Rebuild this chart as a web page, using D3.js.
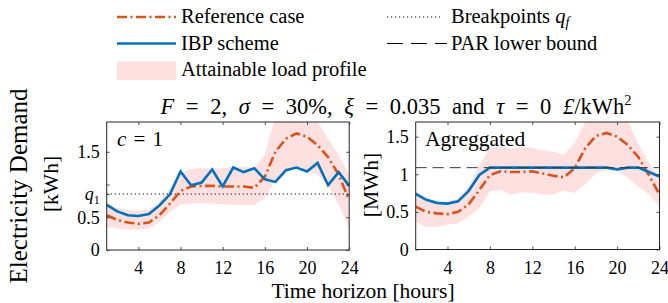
<!DOCTYPE html>
<html>
<head>
<meta charset="utf-8">
<script src="https://cdn.jsdelivr.net/npm/d3@7"></script>
<style>
  html, body { margin: 0; padding: 0; background: #fff; }
  svg { display: block; }
  text { font-family: "Liberation Serif", "Times New Roman", serif; fill: #000; }
</style>
</head>
<body>
<svg id="chart" width="668" height="303"></svg>
<script>
// ---------------- data ----------------
const hours = [1,2,3,4,5,6,7,8,9,10,11,12,13,14,15,16,17,18,19,20,21,22,23,24];
const xTicks = [4, 8, 12, 16, 20, 24];

// Panel c = 1 (kWh)
const refC1    = [0.53,0.46,0.42,0.40,0.42,0.53,0.71,0.90,0.97,0.98,0.98,0.97,0.97,0.97,0.95,1.12,1.50,1.70,1.78,1.73,1.60,1.42,1.15,0.76];
const ibpC1    = [0.69,0.59,0.53,0.52,0.55,0.68,0.85,1.20,0.99,1.03,1.23,0.97,1.26,1.19,1.25,1.08,1.04,1.22,1.26,1.20,1.33,0.99,1.19,0.98];
const bandLoC1 = [0.35,0.33,0.31,0.31,0.33,0.43,0.58,0.69,0.71,0.71,0.71,0.70,0.69,0.69,0.69,0.79,1.07,1.20,1.25,1.22,1.15,0.99,0.69,0.33];
const bandHiC1 = [0.72,0.64,0.61,0.60,0.62,0.72,0.94,1.17,1.24,1.25,1.24,1.25,1.27,1.27,1.26,1.45,2.05,2.20,2.25,2.20,1.96,1.70,1.45,1.15];
const q1 = 0.855;
const yTicksC1 = [0, 0.5, 0.855, 1, 1.5];
const yTickLabelsC1 = ["0", "0.5", "q1", "", "1.5"];

// Aggregated panel (MWh)
const refAgg    = [0.57,0.50,0.48,0.47,0.50,0.60,0.79,0.99,1.04,1.03,1.03,1.04,1.01,0.98,0.96,1.08,1.35,1.51,1.55,1.50,1.39,1.23,0.99,0.73];
const ibpAgg    = [0.74,0.66,0.62,0.61,0.64,0.78,0.99,1.088,1.088,1.088,1.088,1.088,1.088,1.088,1.088,1.088,1.088,1.088,1.088,1.066,1.088,1.088,1.03,0.97];
const bandLoAgg = [0.37,0.30,0.30,0.33,0.35,0.44,0.55,0.77,0.79,0.73,0.76,0.75,0.73,0.73,0.78,0.75,0.87,1.01,1.07,1.05,0.95,0.83,0.73,0.57];
const bandHiAgg = [0.78,0.66,0.63,0.63,0.68,0.84,1.12,1.35,1.37,1.34,1.36,1.35,1.32,1.30,1.26,1.42,1.70,1.90,1.95,1.90,1.72,1.40,1.15,0.95];
const parBound = 1.088;
const yTicksAgg = [0, 0.5, 1, 1.5];
const yTickLabelsAgg = ["0", "0.5", "1", "1.5"];

// ---------------- style ----------------
const ORANGE = "#D95319", BLUE = "#0072BD", PINK = "#FFE0E0", AXIS = "#262626";
const DASHDOT = "10,3.5,2,3.5";
const TICKFS = 18;

const svg = d3.select("#chart");

function drawPanel(o) {
  const x = d3.scaleLinear().domain([1, 24]).range([o.left, o.right]);
  const y = d3.scaleLinear().domain(o.yDomain).range([o.bottom, o.top]);
  const g = svg.append("g");
  const clipId = "clip" + o.id;
  svg.append("clipPath").attr("id", clipId).append("rect")
    .attr("x", o.left).attr("y", o.top).attr("width", o.right - o.left).attr("height", o.bottom - o.top);
  const pg = g.append("g").attr("clip-path", `url(#${clipId})`);

  const rows = hours.map((h, i) => ({h, lo: o.lo[i], hi: o.hi[i], ref: o.ref[i], ibp: o.ibp[i]}));
  pg.append("path").datum(rows)
    .attr("d", d3.area().x(d => x(d.h)).y0(d => y(d.lo)).y1(d => y(d.hi)))
    .attr("fill", PINK);

  if (o.dotted !== undefined) {
    pg.append("line").attr("x1", o.left).attr("x2", o.right)
      .attr("y1", y(o.dotted)).attr("y2", y(o.dotted))
      .attr("stroke", "#000").attr("stroke-width", 1).attr("stroke-dasharray", "1.2,2.8");
  }
  pg.append("path").datum(rows)
    .attr("d", d3.line().x(d => x(d.h)).y(d => y(d.ref)))
    .attr("fill", "none").attr("stroke", ORANGE).attr("stroke-width", 2.6)
    .attr("stroke-dasharray", DASHDOT);
  pg.append("path").datum(rows)
    .attr("d", d3.line().x(d => x(d.h)).y(d => y(d.ibp)))
    .attr("fill", "none").attr("stroke", BLUE).attr("stroke-width", 2.6);
  if (o.dashed !== undefined) {
    pg.append("line").attr("x1", o.left).attr("x2", o.right)
      .attr("y1", y(o.dashed)).attr("y2", y(o.dashed))
      .attr("stroke", "#3a3a3a").attr("stroke-width", 1).attr("stroke-dasharray", "11,6");
  }

  // axes (MATLAB style, ticks inside, box)
  const tl = 3;
  const axB = d3.axisBottom(x).tickValues(xTicks).tickSizeInner(-tl).tickSizeOuter(0).tickPadding(11.5).tickFormat(d3.format("d"));
  const axT = d3.axisTop(x).tickValues(xTicks).tickSizeInner(-tl).tickSizeOuter(0).tickFormat("");
  const axL = d3.axisLeft(y).tickValues(o.yTicks).tickSizeInner(-tl).tickSizeOuter(0).tickPadding(7)
                .tickFormat((d, i) => o.yLabels[i]);
  const axR = d3.axisRight(y).tickValues(o.yTicks).tickSizeInner(-tl).tickSizeOuter(0).tickFormat("");

  g.append("g").attr("transform", `translate(0,${o.bottom})`).call(axB);
  g.append("g").attr("transform", `translate(0,${o.top})`).call(axT);
  const gl = g.append("g").attr("transform", `translate(${o.left},0)`).call(axL);
  g.append("g").attr("transform", `translate(${o.right},0)`).call(axR);
  g.selectAll(".domain").remove();
  g.selectAll(".tick line").attr("stroke", AXIS).attr("stroke-width", 0.8);
  g.selectAll(".tick text").attr("font-family", "Liberation Serif").attr("font-size", TICKFS).attr("fill", "#000");
  gl.selectAll(".tick text").filter((d, i) => o.yLabels[i] === "q1").each(function() {
    const t = d3.select(this); t.text("");
    t.append("tspan").attr("font-style", "italic").text("q");
    t.append("tspan").attr("font-size", 12).attr("dy", 4).text("1");
  });
  g.append("rect").attr("x", o.left).attr("y", o.top)
    .attr("width", o.right - o.left).attr("height", o.bottom - o.top)
    .attr("fill", "none").attr("stroke", AXIS).attr("stroke-width", 1);
}

drawPanel({id: "a", left: 106.7, right: 349.2, top: 122, bottom: 250, yDomain: [0, 1.955],
  ref: refC1, ibp: ibpC1, lo: bandLoC1, hi: bandHiC1, yTicks: yTicksC1, yLabels: yTickLabelsC1, dotted: q1});
drawPanel({id: "b", left: 415.7, right: 659.5, top: 122, bottom: 249.5, yDomain: [0, 1.695],
  ref: refAgg, ibp: ibpAgg, lo: bandLoAgg, hi: bandHiAgg, yTicks: yTicksAgg, yLabels: yTickLabelsAgg, dashed: parBound});

// fit a text to a target width by widening its word spaces
function fitSpacing(sel, target, nSpaces) {
  const w = sel.node().getBBox().width;
  sel.attr("word-spacing", Math.max(0, (target - w) / nSpaces));
}

// panel labels
const cl = svg.append("text").attr("x", 117).attr("y", 145.5).attr("font-size", 21);
cl.append("tspan").attr("font-style", "italic").text("c");
cl.append("tspan").text(" = 1");
fitSpacing(cl, 46, 2);
svg.append("text").attr("x", 425).attr("y", 145.5).attr("font-size", 21.5).text("Agreggated");

// axis labels
svg.append("text").attr("transform", "translate(27,186) rotate(-90)").attr("text-anchor", "middle")
  .attr("font-size", 25).text("Electricity Demand");
svg.append("text").attr("transform", "translate(58,184) rotate(-90)").attr("text-anchor", "middle")
  .attr("font-size", 21.5).text("[kWh]");
svg.append("text").attr("transform", "translate(378,185) rotate(-90)").attr("text-anchor", "middle")
  .attr("font-size", 21.5).text("[MWh]");
svg.append("text").attr("x", 363).attr("y", 297.5).attr("text-anchor", "middle")
  .attr("font-size", 21.5).text("Time horizon [hours]");

// title: spaces widened to the reference width
const tt = svg.append("text").attr("x", 396).attr("y", 113.5).attr("text-anchor", "middle").attr("font-size", 22.5);
tt.append("tspan").attr("font-style", "italic").text("F");
tt.append("tspan").text(" = 2, ");
tt.append("tspan").attr("font-style", "italic").text("σ");
tt.append("tspan").text(" = 30%, ");
tt.append("tspan").attr("font-style", "italic").text("ξ");
tt.append("tspan").text(" = 0.035 and ");
tt.append("tspan").attr("font-style", "italic").text("τ");
tt.append("tspan").text(" = 0 ");
tt.append("tspan").attr("font-style", "italic").text("£");
tt.append("tspan").text("/kWh");
tt.append("tspan").attr("font-size", 14.5).attr("dy", -9).text("2");
fitSpacing(tt, 472, 13);

// legend
const lg = svg.append("g");
const lfs = 20.5;
lg.append("line").attr("x1", 117).attr("x2", 176).attr("y1", 17).attr("y2", 17)
  .attr("stroke", ORANGE).attr("stroke-width", 2.6).attr("stroke-dasharray", DASHDOT);
lg.append("text").attr("x", 181).attr("y", 23.3).attr("font-size", lfs).text("Reference case");
lg.append("line").attr("x1", 117).attr("x2", 176).attr("y1", 43.5).attr("y2", 43.5)
  .attr("stroke", BLUE).attr("stroke-width", 2.6);
lg.append("text").attr("x", 181).attr("y", 49.5).attr("font-size", lfs).text("IBP scheme");
lg.append("rect").attr("x", 117).attr("y", 61.5).attr("width", 59).attr("height", 18.5).attr("fill", PINK);
lg.append("text").attr("x", 181).attr("y", 76).attr("font-size", lfs).text("Attainable load profile");
lg.append("line").attr("x1", 387).attr("x2", 440).attr("y1", 17).attr("y2", 17)
  .attr("stroke", "#000").attr("stroke-width", 1).attr("stroke-dasharray", "1.2,2.8");
const bp = lg.append("text").attr("x", 451).attr("y", 23.3).attr("font-size", lfs);
bp.append("tspan").text("Breakpoints ");
bp.append("tspan").attr("font-style", "italic").text("q");
bp.append("tspan").attr("font-style", "italic").attr("font-size", 14).attr("dy", 4).text("f");
lg.append("line").attr("x1", 387).attr("x2", 447).attr("y1", 43.5).attr("y2", 43.5)
  .attr("stroke", "#000").attr("stroke-width", 1).attr("stroke-dasharray", "16,8");
lg.append("text").attr("x", 451).attr("y", 49.5).attr("font-size", lfs).text("PAR lower bound");
</script>
</body>
</html>
